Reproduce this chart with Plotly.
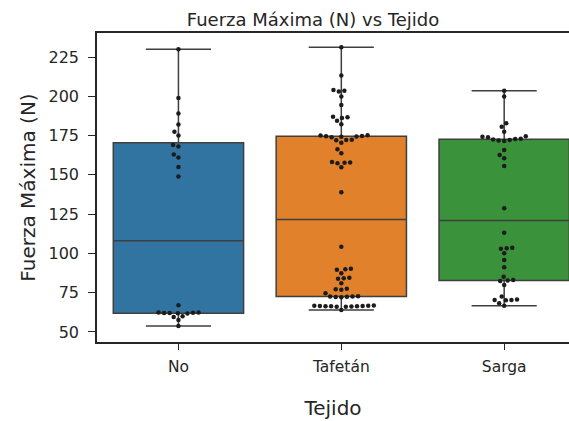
import numpy as np
import plotly.graph_objects as go

# ---------------- data ----------------
categories = ["No", "Tafetán", "Sarga"]

fuerza_no = [230.0, 199.0, 189.0, 182.0, 177.5, 175.0, 169.0, 168.0, 163.0, 161.0, 155.0, 149.0,
             67.0, 62.4, 62.3, 62.2, 62.1, 62.0, 61.9, 61.8, 60.0, 59.5, 57.6, 53.8]

fuerza_tafetan = [231.2, 213.2, 204.0, 203.6, 203.0, 199.8, 194.5, 187.0, 186.7, 186.2, 184.5, 182.2,
                  175.2, 175.0, 174.8, 174.6, 174.4, 174.2, 174.0, 172.4, 172.2, 172.0, 170.5,
                  166.3, 163.7, 158.2, 157.9, 157.7, 157.4, 154.8, 138.9,
                  104.3, 90.2, 89.9, 89.6, 87.4, 84.5, 84.2, 83.9, 81.0, 77.5, 77.2, 76.9, 74.6,
                  72.8, 72.6, 72.5, 72.4, 72.3, 72.1,
                  66.8, 66.7, 66.6, 66.5, 66.5, 66.4, 66.4, 66.3, 66.2, 66.1, 66.0, 64.0]

fuerza_sarga = [203.6, 199.8, 182.8, 180.7, 177.5, 174.6, 174.3, 174.0, 173.0, 172.8, 172.5, 172.2,
                171.8, 171.5, 165.8, 162.7, 160.6, 155.7, 128.7,
                113.2, 103.6, 103.3, 103.0, 100.1, 95.8, 91.2, 85.2, 83.0, 82.7, 82.4, 79.9,
                72.5, 70.6, 70.4, 70.3, 70.1, 68.3, 66.7]

series = [fuerza_no, fuerza_tafetan, fuerza_sarga]
box_colors = ["#3274a1", "#e1812c", "#3a923a"]

title_text = "Fuerza Máxima (N) vs Tejido"
x_title = "Tejido"
y_title = "Fuerza Máxima (N)"
y_ticks = [50, 75, 100, 125, 150, 175, 200, 225]

# ---------------- geometry ----------------
W, H = 569, 421
ml, mr, mt, mb = 97, 0, 33, 79
y_range = [43.6, 240.3]
x_range = [-0.5, 2.398]
px_per_x = (W - ml - mr) / (x_range[1] - x_range[0])
px_per_y = (H - mt - mb) / (y_range[1] - y_range[0])
box_width = 0.8
dot_d = 5.6  # swarm spacing in pixels


def box_stats(vals):
    v = np.asarray(vals, dtype=float)
    q1, med, q3 = np.percentile(v, [25, 50, 75])
    iqr = q3 - q1
    lo = v[v >= q1 - 1.5 * iqr].min()
    hi = v[v <= q3 + 1.5 * iqr].max()
    return q1, med, q3, lo, hi


def beeswarm(vals):
    """Return x offsets (data units) placing points without overlap, closest to centre."""
    v = np.asarray(vals, dtype=float)
    order = np.argsort(v)
    ys = v * px_per_y
    placed = []
    offs = np.zeros(len(v))
    for idx in order:
        y = ys[idx]
        cands = [0.0]
        for (px, py) in placed:
            dy = abs(py - y)
            if dy < dot_d:
                dx = np.sqrt(dot_d ** 2 - dy ** 2)
                cands += [px + dx, px - dx]
        cands = sorted(cands, key=lambda c: (abs(c), c))
        for c in cands:
            ok = True
            for (px, py) in placed:
                if (px - c) ** 2 + (py - y) ** 2 < dot_d ** 2 - 1e-6:
                    ok = False
                    break
            if ok:
                break
        placed.append((c, y))
        offs[idx] = c / px_per_x
    return offs


fig = go.Figure()
line_col = "#3f3f3f"
for i, (vals, col) in enumerate(zip(series, box_colors)):
    q1, med, q3, lo, hi = box_stats(vals)
    fig.add_trace(go.Box(
        x=[i], q1=[q1], median=[med], q3=[q3], lowerfence=[lo], upperfence=[hi],
        width=box_width, whiskerwidth=0.5, fillcolor=col,
        line=dict(color=line_col, width=1.5), boxpoints=False,
        showlegend=False, hoverinfo="skip",
    ))

for i, vals in enumerate(series):
    offs = beeswarm(vals)
    fig.add_trace(go.Scatter(
        x=i + offs, y=vals, mode="markers",
        marker=dict(color="#1c1c1c", size=4.5, line=dict(width=0)),
        showlegend=False, hoverinfo="skip",
    ))

font_family = "DejaVu Sans"
txt = "#262626"
fig.update_layout(
    width=W, height=H,
    margin=dict(l=ml, r=mr, t=mt, b=mb, pad=0),
    paper_bgcolor="white", plot_bgcolor="white",
    boxmode="overlay",
    font=dict(family=font_family, color=txt),
    title=dict(text=title_text, x=(313 - ml) / (W - ml - mr), xref="paper",
               xanchor="center", y=1 - 20 / H, yanchor="middle",
               font=dict(size=18, color=txt, family=font_family)),
    xaxis=dict(
        range=x_range, tickvals=[0, 1, 2], ticktext=categories,
        showline=True, linecolor=txt, linewidth=1.5, mirror=True,
        ticks="outside", ticklen=6, tickwidth=1.3, tickcolor=txt,
        ticklabelstandoff=4,
        showgrid=False, zeroline=False,
        tickfont=dict(size=15.5, color=txt),
        title=dict(text=x_title, font=dict(size=20, color=txt), standoff=26),
    ),
    yaxis=dict(
        range=y_range, tickvals=y_ticks,
        showline=True, linecolor=txt, linewidth=1.5, mirror=False,
        ticks="outside", ticklen=7, tickwidth=1.3, tickcolor=txt,
        ticklabelstandoff=6,
        showgrid=False, zeroline=False,
        tickfont=dict(size=16, color=txt),
        title=dict(text=y_title, font=dict(size=20, color=txt), standoff=8),
    ),
)

fig.write_html("out.html")
